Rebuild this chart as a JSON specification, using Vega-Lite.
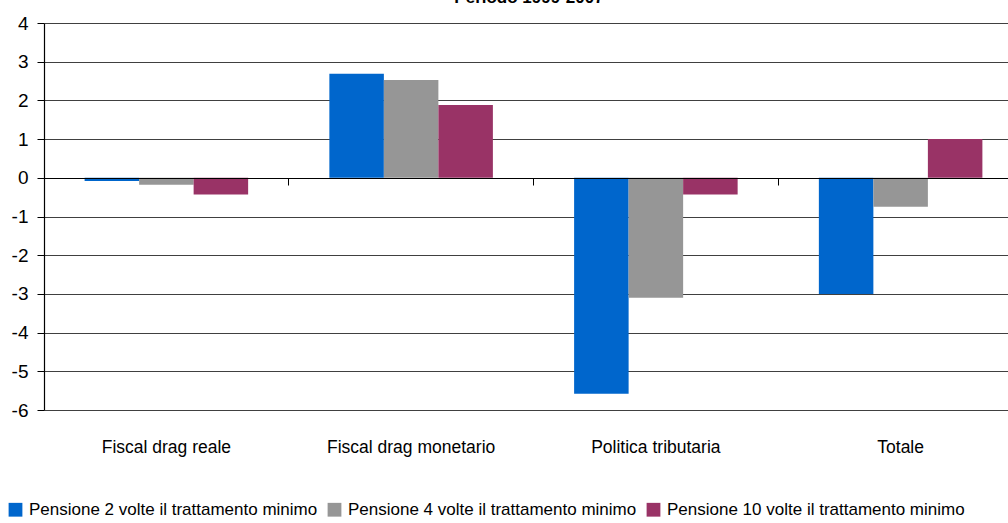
{
  "$schema": "https://vega.github.io/schema/vega-lite/v6.json",
  "autosize": {"type": "none"},
  "width": 964,
  "height": 387,
  "padding": {"top": 23, "left": 44, "right": 0, "bottom": 113},
  "background": "white",
  "config": {
    "view": {"stroke": null},
    "font": "Liberation Sans, Arial, sans-serif"
  },
  "title": {
    "text": "Periodo 1999-2007",
    "fontSize": 17,
    "fontWeight": "bold",
    "font": "Liberation Sans, Arial, sans-serif",
    "color": "black",
    "anchor": "middle",
    "baseline": "alphabetic",
    "dx": 3,
    "dy": 8,
    "offset": 2
  },
  "data": {
    "values": [
      {"categoria": "Fiscal drag reale", "serie": "Pensione 2 volte il trattamento minimo", "valore": -0.08},
      {"categoria": "Fiscal drag reale", "serie": "Pensione 4 volte il trattamento minimo", "valore": -0.18},
      {"categoria": "Fiscal drag reale", "serie": "Pensione 10 volte il trattamento minimo", "valore": -0.43},
      {"categoria": "Fiscal drag monetario", "serie": "Pensione 2 volte il trattamento minimo", "valore": 2.69},
      {"categoria": "Fiscal drag monetario", "serie": "Pensione 4 volte il trattamento minimo", "valore": 2.53},
      {"categoria": "Fiscal drag monetario", "serie": "Pensione 10 volte il trattamento minimo", "valore": 1.88},
      {"categoria": "Politica tributaria", "serie": "Pensione 2 volte il trattamento minimo", "valore": -5.58},
      {"categoria": "Politica tributaria", "serie": "Pensione 4 volte il trattamento minimo", "valore": -3.1},
      {"categoria": "Politica tributaria", "serie": "Pensione 10 volte il trattamento minimo", "valore": -0.43},
      {"categoria": "Totale", "serie": "Pensione 2 volte il trattamento minimo", "valore": -3.0},
      {"categoria": "Totale", "serie": "Pensione 4 volte il trattamento minimo", "valore": -0.75},
      {"categoria": "Totale", "serie": "Pensione 10 volte il trattamento minimo", "valore": 1.0}
    ]
  },
  "encoding": {
    "xOffset": {
      "field": "serie", "type": "nominal",
      "sort": ["Pensione 2 volte il trattamento minimo", "Pensione 4 volte il trattamento minimo", "Pensione 10 volte il trattamento minimo"],
      "scale": {"paddingInner": 0, "paddingOuter": 0.745}
    },
    "y": {
      "field": "valore", "type": "quantitative",
      "scale": {"domain": [-6, 4], "nice": false, "zero": false},
      "axis": {
        "title": null, "values": [-6, -5, -4, -3, -2, -1, 0, 1, 2, 3, 4],
        "labelExpr": "datum.value < 0 ? '-' + abs(datum.value) : '' + datum.value",
        "labelOverlap": false,
        "grid": true, "gridColor": "#404040", "gridWidth": 1, "gridOpacity": 1,
        "domain": true, "domainColor": "black", "domainWidth": 1.2,
        "ticks": true, "tickColor": "black", "tickSize": 7, "tickWidth": 1,
        "labelFontSize": 19, "labelColor": "black", "labelPadding": 9
      }
    }
  },
  "resolve": {"axis": {"x": "independent"}},
  "layer": [
    {
      "mark": {"type": "bar"},
      "encoding": {
        "x": {
          "field": "categoria", "type": "nominal",
          "sort": ["Fiscal drag reale", "Fiscal drag monetario", "Politica tributaria", "Totale"],
          "scale": {"range": [0, 979], "paddingInner": 0, "paddingOuter": 0},
          "axis": {
            "title": null, "orient": "bottom", "domain": false, "ticks": false,
            "labelAngle": 0, "labelFontSize": 17.5, "labelColor": "black",
            "labelPadding": 28, "labelLimit": 0, "grid": false
          }
        },
        "color": {
          "field": "serie", "type": "nominal",
          "sort": ["Pensione 2 volte il trattamento minimo", "Pensione 4 volte il trattamento minimo", "Pensione 10 volte il trattamento minimo"],
          "scale": {"range": ["#0066CC", "#969696", "#993366"]},
          "legend": {
            "title": null, "orient": "none", "direction": "horizontal",
            "legendX": -37, "legendY": 478,
            "symbolType": "square", "symbolSize": 190, "symbolStrokeWidth": 0,
            "labelFontSize": 17, "labelColor": "black", "labelLimit": 0,
            "labelOffset": 5, "columnPadding": 8
          }
        }
      }
    },
    {
      "mark": {"type": "bar", "opacity": 0},
      "encoding": {
        "x": {
          "field": "categoria", "type": "nominal",
          "sort": ["Fiscal drag reale", "Fiscal drag monetario", "Politica tributaria", "Totale"],
          "axis": {
            "title": null, "orient": "bottom", "offset": -232,
            "labels": false, "grid": false,
            "domain": true, "domainColor": "black", "domainWidth": 1.2,
            "ticks": true, "tickColor": "black", "tickSize": 7, "tickWidth": 1,
            "bandPosition": 0, "zindex": 2
          }
        }
      }
    }
  ]
}
